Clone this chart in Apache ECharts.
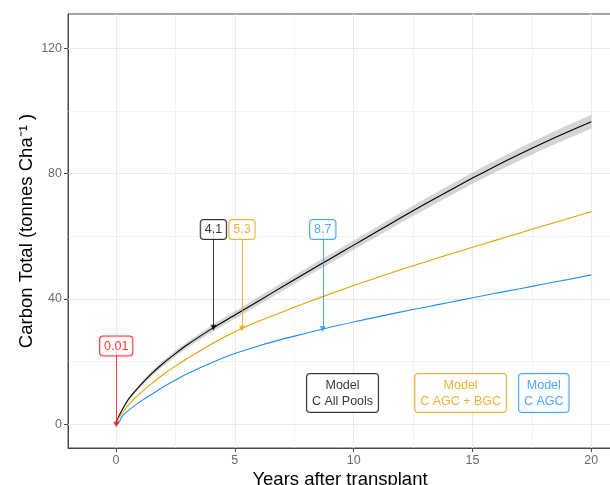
<!DOCTYPE html>
<html>
<head>
<meta charset="utf-8">
<script src="https://cdn.jsdelivr.net/npm/echarts@6/dist/echarts.min.js"></script>
<style>
  html, body { margin: 0; padding: 0; background: #ffffff; }
  #chart { width: 610px; height: 485px; }
</style>
</head>
<body>
<div id="chart"></div>
<script>
// Modelled carbon accumulation after transplanting (tonnes C per ha)
const years = [0, 0.1, 0.25, 0.5, 1, 1.5, 2, 2.5, 3, 4, 5, 6, 7, 8, 9, 10, 11, 12, 13, 14, 15, 16, 17, 18, 19, 20];
const allPools     = [0, 2.3, 4.5, 7.8, 12.3, 16.2, 19.6, 22.6, 25.4, 30.4, 34.9, 39.4, 43.9, 48.4, 52.8, 57.2, 61.6, 66.0, 70.3, 74.5, 78.6, 82.5, 86.3, 89.9, 93.3, 96.6];
const allPoolsLow  = [0, 2.2, 4.2, 7.3, 11.6, 15.4, 18.7, 21.65, 24.4, 29.3, 33.7, 38.1, 42.55, 47.0, 51.35, 55.7, 60.05, 64.4, 68.6, 72.75, 76.8, 80.6, 84.3, 87.85, 91.15, 94.4];
const allPoolsHigh = [0, 2.4, 4.8, 8.3, 13.0, 17.0, 20.5, 23.55, 26.4, 31.5, 36.1, 40.7, 45.25, 49.8, 54.25, 58.7, 63.15, 67.6, 72.0, 76.25, 80.4, 84.4, 88.3, 91.95, 95.45, 98.8];
const agcBgc       = [0, 1.8, 3.5, 6.0, 9.8, 13.0, 16.0, 18.6, 21.0, 25.6, 29.6, 32.9, 35.9, 38.8, 41.6, 44.3, 46.9, 49.4, 51.8, 54.2, 56.5, 58.8, 61.1, 63.4, 65.6, 67.9];
const agc          = [0, 0.3, 2.5, 4.3, 7.2, 9.6, 12.0, 14.2, 16.2, 19.6, 22.6, 25.0, 27.2, 29.1, 31.0, 32.7, 34.3, 35.9, 37.4, 38.9, 40.4, 41.9, 43.3, 44.8, 46.2, 47.7];

// Axis ticks and grid positions
const xTicks = [0, 5, 10, 15, 20];
const xMinor = [2.5, 7.5, 12.5, 17.5];
const yTicks = [0, 40, 80, 120];
const yMinor = [20, 60, 100];

// Years needed to reach the marked stock, per pool
const markYears  = [0.01, 4.1, 5.3, 8.7];
const markText   = ['0.01', '4.1', '5.3', '8.7'];
const markLabelY = [25, 62.2, 62.2, 62.2];
const markCurve  = ['agc', 'allPools', 'agcBgc', 'agc'];

// Model name boxes
const modelNames = ['Model\nC All Pools', 'Model\nC AGC + BGC', 'Model\nC AGC'];
const modelX = [9.53, 14.5, 18.0];
const modelY = [10, 10, 10];

const FONT = "'Liberation Sans', Arial, Helvetica, sans-serif";
const COL = { allPools: '#000000', agcBgc: '#E69F00', agc: '#1E90FF', zero: '#FF0000' };
const markColors = [COL.zero, COL.allPools, COL.agcBgc, COL.agc];
const modelColors = [COL.allPools, COL.agcBgc, COL.agc];
const curves = { allPools, agcBgc, agc };

function pairs(xs, ys) { return xs.map((x, i) => [x, ys[i]]); }

// Value of a curve at year t, read along its segments
function curveAt(name, t) {
  const ys = curves[name];
  for (let i = 1; i < years.length; i++) {
    if (t <= years[i]) {
      const f = (t - years[i - 1]) / (years[i] - years[i - 1]);
      return ys[i - 1] + f * (ys[i] - ys[i - 1]);
    }
  }
  return ys[ys.length - 1];
}

const gridLines = []
  .concat(yTicks.map(v => ({ yAxis: v, lineStyle: { width: 1 } })))
  .concat(yMinor.map(v => ({ yAxis: v, lineStyle: { width: 0.6 } })))
  .concat(xTicks.map(v => ({ xAxis: v, lineStyle: { width: 1 } })))
  .concat(xMinor.map(v => ({ xAxis: v, lineStyle: { width: 0.6 } })));

const series = [];

// panel grid, kept beneath everything else
series.push({
  type: 'line', data: [[0, 0]], showSymbol: false, silent: true, z: 1,
  lineStyle: { opacity: 0 },
  markLine: {
    z: 1, silent: true, animation: false, symbol: ['none', 'none'],
    label: { show: false },
    lineStyle: { color: '#ebebeb', type: 'solid' },
    data: gridLines
  }
});

// confidence ribbon around the all-pools curve, as one polygon
series.push({
  type: 'custom', silent: true, z: 2,
  data: [[0, 0]],
  renderItem: function (params, api) {
    const upper = years.map((x, i) => api.coord([x, allPoolsHigh[i]]));
    const lower = years.map((x, i) => api.coord([x, allPoolsLow[i]])).reverse();
    return {
      type: 'polygon',
      shape: { points: upper.concat(lower) },
      style: { fill: 'rgba(150,150,150,0.4)', stroke: null }
    };
  }
});

// model curves
[['allPools', allPools], ['agcBgc', agcBgc], ['agc', agc]].forEach(([key, ys]) => {
  series.push({
    type: 'line', name: key, data: pairs(years, ys), showSymbol: false,
    smooth: 0.25, z: 3,
    lineStyle: { color: COL[key], width: 1.1 }
  });
});

// arrows from the year labels down to the curves
markYears.forEach((x, i) => {
  const tip = x <= 0.05 ? 0 : curveAt(markCurve[i], x);
  series.push({
    type: 'line', data: [[x, tip]], showSymbol: false, silent: true, z: 4,
    lineStyle: { opacity: 0 },
    markLine: {
      z: 4, silent: true, animation: false,
      symbol: ['none', 'triangle'], symbolSize: 6,
      label: { show: false },
      lineStyle: { color: markColors[i], width: 1, type: 'solid', opacity: 0.75 },
      itemStyle: { color: markColors[i] },
      data: [[{ coord: [x, markLabelY[i]] }, { coord: [x, tip] }]]
    }
  });
});

// year labels
series.push({
  type: 'scatter', symbolSize: 0, silent: true, z: 6,
  data: markYears.map((x, i) => ({
    value: [x, markLabelY[i]],
    label: {
      show: true, position: 'inside', formatter: markText[i],
      color: markColors[i], borderColor: markColors[i]
    }
  })),
  label: {
    fontFamily: FONT, fontSize: 12.5, lineHeight: 14,
    backgroundColor: '#ffffff', borderWidth: 1, borderRadius: 3,
    padding: [3, 4, 2, 4]
  }
});

// model name boxes
series.push({
  type: 'scatter', symbolSize: 0, silent: true, z: 6,
  data: modelX.map((x, i) => ({
    value: [x, modelY[i]],
    label: {
      show: true, position: 'inside', formatter: modelNames[i],
      color: modelColors[i], borderColor: modelColors[i]
    }
  })),
  label: {
    fontFamily: FONT, fontSize: 12.5, lineHeight: 16, align: 'center',
    backgroundColor: '#ffffff', borderWidth: 1, borderRadius: 3,
    padding: [3, 5, 3, 5]
  }
});

const axisCommon = {
  type: 'value',
  splitLine: { show: false },
  nameMoveOverlap: false,
  axisLine: { show: true, onZero: false, lineStyle: { color: '#4a4a4a', width: 1 } }
};

const option = {
  animation: false,
  backgroundColor: '#ffffff',
  grid: {
    left: 68, top: 14, right: -2, bottom: 37,
    show: true, borderColor: '#4a4a4a', borderWidth: 1,
    outerBoundsMode: 'none', containLabel: false
  },
  xAxis: Object.assign({}, axisCommon, {
    min: -2.02, max: 20.87,
    axisTick: { show: true, customValues: xTicks, length: 4, lineStyle: { color: '#4a4a4a' } },
    axisLabel: { customValues: xTicks, color: '#6a6a6a', fontSize: 12.5, fontFamily: FONT, margin: 6 },
    name: 'Years after transplant', nameLocation: 'middle', nameGap: 22,
    nameTextStyle: { fontSize: 18.5, color: '#000000', fontFamily: FONT }
  }),
  yAxis: Object.assign({}, axisCommon, {
    min: -7.53, max: 130.95,
    axisTick: { show: true, customValues: yTicks, length: 4, lineStyle: { color: '#4a4a4a' } },
    axisLabel: { customValues: yTicks, color: '#6a6a6a', fontSize: 12.5, fontFamily: FONT, margin: 6 },
    name: 'Carbon Total (tonnes Cha\u207B\u00B9 )',
    nameLocation: 'middle', nameGap: 32,
    nameTextStyle: { fontSize: 18.5, color: '#000000', fontFamily: FONT }
  }),
  series: series
};

const chart = echarts.init(document.getElementById('chart'), null, { renderer: 'canvas' });
chart.setOption(option);
</script>
</body>
</html>
